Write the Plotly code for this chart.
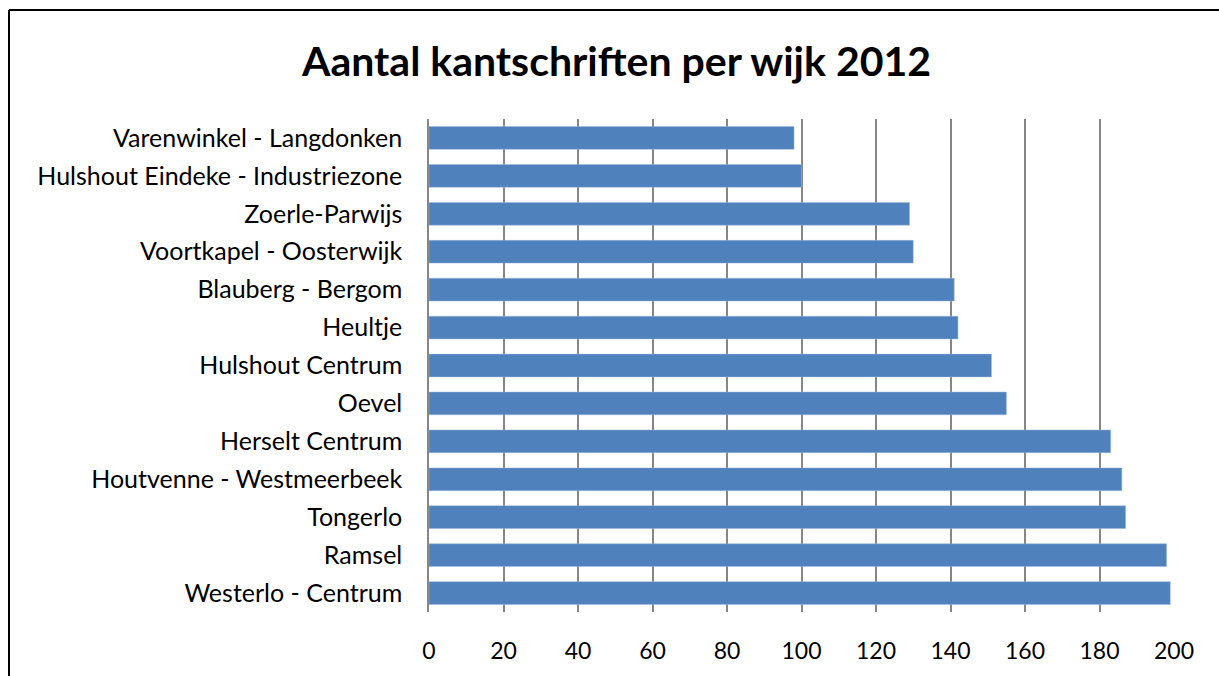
import plotly.graph_objects as go

categories = [
    "Varenwinkel - Langdonken",
    "Hulshout Eindeke - Industriezone",
    "Zoerle-Parwijs",
    "Voortkapel - Oosterwijk",
    "Blauberg - Bergom",
    "Heultje",
    "Hulshout Centrum",
    "Oevel",
    "Herselt Centrum",
    "Houtvenne - Westmeerbeek",
    "Tongerlo",
    "Ramsel",
    "Westerlo - Centrum",
]
values = [98, 100, 129, 130, 141, 142, 151, 155, 183, 186, 187, 198, 199]
x_ticks = [0, 20, 40, 60, 80, 100, 120, 140, 160, 180, 200]

font_family = "Lato, Open Sans, sans-serif"

W, H = 1219, 676
L, R, T, B = 429, 45, 119, 64
plot_w = W - L - R
plot_h = H - T - B

fig = go.Figure(
    go.Bar(
        y=categories,
        x=values,
        orientation="h",
        marker=dict(color="#4F81BD", line=dict(color="#9DB9DC", width=0.5)),
        hoverinfo="x+y",
    )
)

frame_x0 = (9 - L) / plot_w
frame_y1 = (H - B - 10) / plot_h

fig.update_layout(
    width=W,
    height=H,
    paper_bgcolor="white",
    plot_bgcolor="white",
    margin=dict(l=L, r=R, t=T, b=B, autoexpand=False),
    bargap=0.4,
    showlegend=False,
    title=dict(
        text="<b>Aantal kantschriften per wijk 2012</b>",
        x=616.5 / W,
        xanchor="center",
        y=1 - 62 / H,
        yanchor="middle",
        font=dict(family=font_family, size=41, color="black"),
    ),
    font=dict(family=font_family, color="black"),
    xaxis=dict(
        range=[0, 200],
        tickvals=x_ticks,
        ticktext=[str(v) for v in x_ticks],
        showgrid=True,
        gridcolor="#868686",
        gridwidth=1.5,
        zeroline=False,
        showline=False,
        ticks="",
        tickfont=dict(size=23, color="black"),
        ticklabelstandoff=23,
        fixedrange=True,
    ),
    yaxis=dict(
        categoryorder="array",
        categoryarray=categories[::-1],
        showgrid=False,
        showline=True,
        linecolor="#868686",
        linewidth=1.5,
        ticks="",
        tickfont=dict(size=25, color="black"),
        ticklabelstandoff=20,
        fixedrange=True,
    ),
    shapes=[
        dict(
            type="line", xref="paper", yref="paper",
            x0=frame_x0, x1=1.5, y0=frame_y1, y1=frame_y1,
            line=dict(color="black", width=2), layer="below",
        ),
        dict(
            type="line", xref="paper", yref="paper",
            x0=frame_x0, x1=frame_x0, y0=-0.5, y1=frame_y1,
            line=dict(color="black", width=2), layer="below",
        ),
    ],
)

fig.write_html(
    "out.html",
    config={"displayModeBar": False},
    post_script="document.body.style.margin='0';document.body.style.overflow='hidden';",
)
